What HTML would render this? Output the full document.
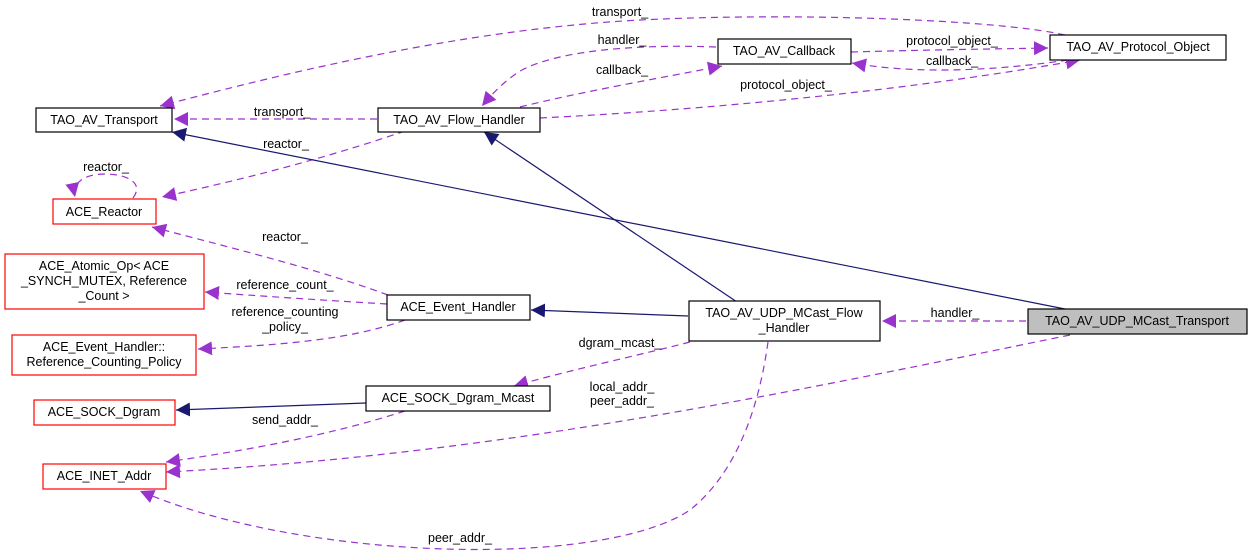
<!DOCTYPE html>
<html><head><meta charset="utf-8"><style>
html,body{margin:0;padding:0;background:#fff;}
svg{display:block;font-family:"Liberation Sans",sans-serif;}
text{font-size:12.5px;fill:#000;}
</style></head><body>
<svg width="1252" height="559" viewBox="0 0 1252 559" xmlns="http://www.w3.org/2000/svg">
<defs>
<marker id="p" viewBox="0 0 10 10" refX="10" refY="5" markerWidth="14" markerHeight="14" markerUnits="userSpaceOnUse" orient="auto"><path d="M0,0 L10,5 L0,10 z" fill="#9a32cd"/></marker>
<marker id="n" viewBox="0 0 10 10" refX="10" refY="5" markerWidth="14" markerHeight="14" markerUnits="userSpaceOnUse" orient="auto"><path d="M0,0 L10,5 L0,10 z" fill="#191970"/></marker>
</defs>
<g fill="none" stroke="#9a32cd" stroke-width="1.2" stroke-dasharray="7,5">
<path d="M1065,35 C1000,20 800,12 640,20 C450,30 260,80 160,106" marker-end="url(#p)"/>
<path d="M716,47 C640,44 560,50 522,70 C505,80 492,94 482,106" marker-end="url(#p)"/>
<path d="M520,107 C580,92 660,78 722,66" marker-end="url(#p)"/>
<path d="M540,118 C700,110 900,92 1080,60" marker-end="url(#p)"/>
<path d="M851,52 C920,50 990,49 1048,48" marker-end="url(#p)"/>
<path d="M1068,60 C1000,70 920,75 852,63" marker-end="url(#p)"/>
<path d="M377,119 L174,119" marker-end="url(#p)"/>
<path d="M405,131 C320,160 240,180 162,197" marker-end="url(#p)"/>
<path d="M133,198 C145,182 125,174 105,174 C85,174 72,182 75,197" marker-end="url(#p)"/>
<path d="M388,295 C320,270 240,250 152,227" marker-end="url(#p)"/>
<path d="M387,304 C320,300 260,296 205,292" marker-end="url(#p)"/>
<path d="M405,320 C350,340 280,345 198,349" marker-end="url(#p)"/>
<path d="M690,342 C640,355 570,370 514,386" marker-end="url(#p)"/>
<path d="M405,411 C330,435 250,450 166,462" marker-end="url(#p)"/>
<path d="M1070,335 C800,390 500,455 166,472" marker-end="url(#p)"/>
<path d="M768,342 C760,400 740,470 690,510 C600,570 300,560 140,491" marker-end="url(#p)"/>
<path d="M1026,321 L882,321" marker-end="url(#p)"/>
</g>
<g fill="none" stroke="#191970" stroke-width="1.2">
<path d="M1070,310 L172,132" marker-end="url(#n)"/>
<path d="M740,304 L484,132" marker-end="url(#n)"/>
<path d="M688,316 L531,310" marker-end="url(#n)"/>
<path d="M366,403 L176,410" marker-end="url(#n)"/>
</g>
<g stroke-width="1.2">
<rect x="36" y="108" width="136" height="24" fill="#fff" stroke="#000"/>
<rect x="378" y="108" width="162" height="24" fill="#fff" stroke="#000"/>
<rect x="718" y="39" width="133" height="25" fill="#fff" stroke="#000"/>
<rect x="1050" y="35" width="176" height="25" fill="#fff" stroke="#000"/>
<rect x="53" y="199" width="103" height="25" fill="#fff" stroke="#f00"/>
<rect x="5" y="254" width="199" height="55" fill="#fff" stroke="#f00"/>
<rect x="12" y="335" width="184" height="40" fill="#fff" stroke="#f00"/>
<rect x="387" y="295" width="143" height="25" fill="#fff" stroke="#000"/>
<rect x="689" y="301" width="191" height="40" fill="#fff" stroke="#000"/>
<rect x="1028" y="309" width="219" height="25" fill="#bfbfbf" stroke="#000"/>
<rect x="34" y="400" width="141" height="25" fill="#fff" stroke="#f00"/>
<rect x="366" y="386" width="184" height="25" fill="#fff" stroke="#000"/>
<rect x="43" y="464" width="123" height="25" fill="#fff" stroke="#f00"/>
</g>
<g text-anchor="middle">
<text x="104" y="124">TAO_AV_Transport</text>
<text x="459" y="124">TAO_AV_Flow_Handler</text>
<text x="784" y="55">TAO_AV_Callback</text>
<text x="1138" y="51">TAO_AV_Protocol_Object</text>
<text x="104" y="216">ACE_Reactor</text>
<text x="104" y="270">ACE_Atomic_Op&lt; ACE</text>
<text x="104" y="285">_SYNCH_MUTEX, Reference</text>
<text x="104" y="300">_Count &gt;</text>
<text x="104" y="351">ACE_Event_Handler::</text>
<text x="104" y="366">Reference_Counting_Policy</text>
<text x="458" y="311">ACE_Event_Handler</text>
<text x="784" y="317">TAO_AV_UDP_MCast_Flow</text>
<text x="784" y="332">_Handler</text>
<text x="1137" y="325">TAO_AV_UDP_MCast_Transport</text>
<text x="104" y="416">ACE_SOCK_Dgram</text>
<text x="458" y="402">ACE_SOCK_Dgram_Mcast</text>
<text x="104" y="480">ACE_INET_Addr</text>
<text x="620" y="16">transport_</text>
<text x="622" y="44">handler_</text>
<text x="622" y="74">callback_</text>
<text x="786" y="89">protocol_object_</text>
<text x="952" y="45">protocol_object_</text>
<text x="952" y="65">callback_</text>
<text x="282" y="116">transport_</text>
<text x="286" y="148">reactor_</text>
<text x="106" y="171">reactor_</text>
<text x="285" y="241">reactor_</text>
<text x="285" y="289">reference_count_</text>
<text x="285" y="316">reference_counting</text>
<text x="285" y="331">_policy_</text>
<text x="620" y="347">dgram_mcast_</text>
<text x="285" y="424">send_addr_</text>
<text x="622" y="391">local_addr_</text>
<text x="622" y="405">peer_addr_</text>
<text x="460" y="542">peer_addr_</text>
<text x="955" y="317">handler_</text>
</g>
</svg>
</body></html>
